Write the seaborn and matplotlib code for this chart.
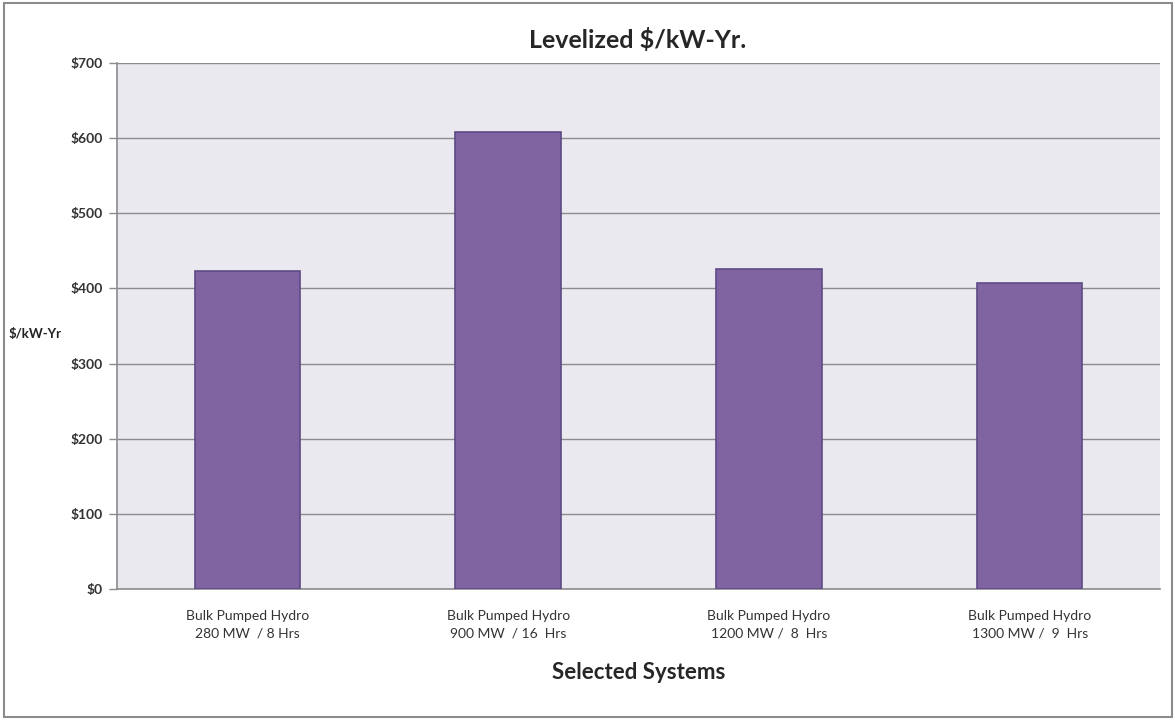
import matplotlib
matplotlib.use("Agg")
import matplotlib.pyplot as plt
from matplotlib.patches import Rectangle
import seaborn as sns
import pandas as pd

systems = [
    "Bulk Pumped Hydro\n280 MW  / 8 Hrs",
    "Bulk Pumped Hydro\n900 MW  / 16  Hrs",
    "Bulk Pumped Hydro\n1200 MW /  8  Hrs",
    "Bulk Pumped Hydro\n1300 MW /  9  Hrs",
]
cost_per_kw_yr = [423, 608, 426, 407]
y_ticks = [0, 100, 200, 300, 400, 500, 600, 700]

df = pd.DataFrame({"system": systems, "cost": cost_per_kw_yr})

sns.set_style("white")
plt.rcParams["font.family"] = ["Lato", "DejaVu Sans"]

fig = plt.figure(figsize=(11.76, 7.2), dpi=100)
ax = fig.add_axes([0.0995, 0.1819, 0.8869, 0.7306])
ax.set_facecolor("#EBE9F0")

sns.barplot(data=df, x="system", y="cost", color="#8064A2", saturation=1,
            width=0.405, edgecolor="#5E4A85", linewidth=1.2, ax=ax, zorder=3)

ax.set_ylim(0, 700)
ax.set_xlim(-0.5, 3.5)
ax.set_yticks(y_ticks)
ax.set_yticklabels([f"${v}" for v in y_ticks], fontsize=10, fontweight="bold",
                   color="#333333")
ax.yaxis.grid(True, color="#8C8C8C", linewidth=1.0, zorder=0)
ax.set_axisbelow(True)

# category separators on the x axis
ax.set_xticks([0, 1, 2, 3])
ax.set_xticklabels(systems, fontsize=10, color="#333333", linespacing=1.6)
ax.set_xticks([-0.5, 0.5, 1.5, 2.5, 3.5], minor=True)
ax.tick_params(axis="x", which="major", length=0, pad=15)
ax.tick_params(axis="x", which="minor", length=6, width=1, color="#8C8C8C",
               direction="out")
ax.tick_params(axis="y", length=6, width=1, color="#8C8C8C", direction="out",
               pad=4, left=True)

for side in ["top", "right"]:
    ax.spines[side].set_visible(False)
for side in ["left", "bottom"]:
    ax.spines[side].set_visible(True)
    ax.spines[side].set_color("#8C8C8C")
    ax.spines[side].set_linewidth(1.2)

ax.set_xlabel("Selected Systems", fontsize=16, fontweight="bold", labelpad=16)
ax.set_ylabel("")
fig.text(0.007, 0.536, "$/kW-Yr", fontsize=9.5, fontweight="bold",
         ha="left", va="center", color="#222222")
fig.text(0.542, 0.944, "Levelized $/kW-Yr.", fontsize=18, fontweight="bold",
         ha="center", va="center")

# outer frame around the chart
fig.patches.append(Rectangle((0.003, 0.004), 0.994, 0.992, transform=fig.transFigure,
                             fill=False, edgecolor="#8C8C8C", linewidth=1.5))

fig.savefig("out.png", dpi=100)
